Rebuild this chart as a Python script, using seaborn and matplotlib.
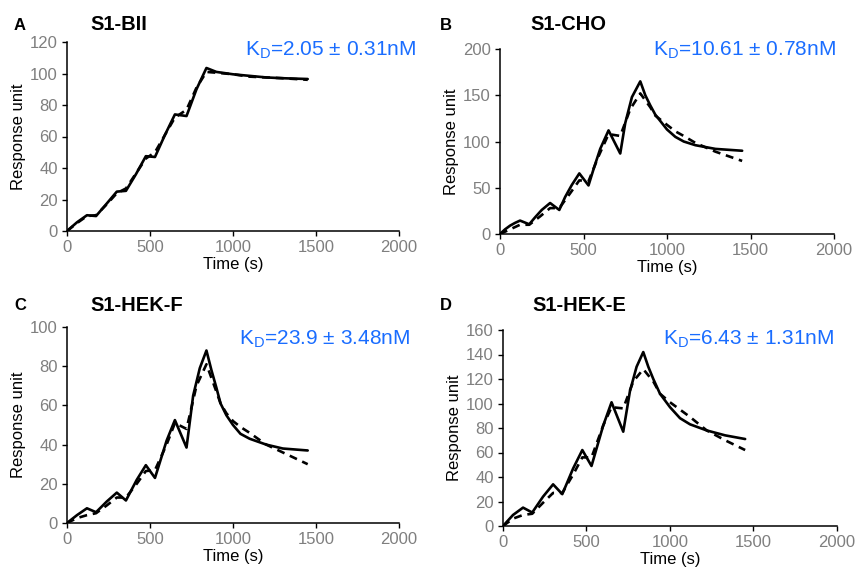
import numpy as np
import pandas as pd
import matplotlib.pyplot as plt
import seaborn as sns

sns.set_style("ticks")
plt.rcParams['font.family'] = ['Liberation Sans', 'DejaVu Sans']
plt.rcParams['text.color'] = 'black'
plt.rcParams['axes.labelcolor'] = 'black'

# ---- data ----
# Panel A: S1-BII
a_t_obs = [0, 60, 120, 175, 240, 300, 355, 415, 475, 530, 590, 650, 720, 780, 840, 900, 1000, 1100, 1200, 1300, 1450]
a_y_obs = [0, 5.5, 10, 9.5, 17.5, 25, 25.5, 36, 47.5, 47, 61, 74, 73, 90, 103.5, 101, 99.5, 98.5, 97.5, 97, 96.5]
a_t_fit = [0, 60, 120, 175, 240, 300, 355, 415, 475, 530, 590, 650, 720, 780, 840, 900, 1000, 1100, 1200, 1300, 1450]
a_y_fit = [0, 5, 9.5, 10, 17, 24, 27, 36.5, 46, 50, 61, 72, 77, 91, 101, 100.5, 99.5, 98, 97.5, 97, 96]

# Panel B: S1-CHO
b_t_obs = [0, 30, 60, 90, 120, 175, 210, 250, 300, 355, 390, 430, 475, 530, 560, 600, 650, 720, 750, 790, 840,
           870, 900, 930, 1000, 1050, 1100, 1170, 1290, 1450]
b_y_obs = [0, 5, 9, 12, 14.5, 10.5, 18, 26, 33.5, 26, 40, 53, 65.5, 52.5, 70, 92, 112, 87, 120, 148, 165,
           150, 139, 129, 113, 105, 100, 96, 92, 90]
b_t_fit = [0, 60, 120, 175, 240, 300, 355, 420, 475, 530, 590, 650, 720, 780, 840, 900, 930, 1000, 1050, 1100,
           1170, 1290, 1450]
b_y_fit = [0, 5, 10, 10, 19, 28, 28, 44, 58, 57, 84, 108, 106, 135, 152, 137, 128, 118, 111, 106,
           98.5, 89, 79]

# Panel C: S1-HEK-F
c_t_obs = [0, 60, 120, 175, 240, 300, 355, 420, 475, 530, 600, 650, 720, 760, 800, 840, 870, 900, 925, 960,
           1000, 1045, 1100, 1200, 1300, 1450]
c_y_obs = [0, 4, 7.5, 5.5, 11, 15.5, 11.5, 22, 29.5, 23, 42, 52.5, 38.5, 65, 79, 88, 78, 69, 61, 55,
           50, 45.5, 43, 40, 38, 37]
c_t_fit = [0, 60, 120, 175, 240, 300, 355, 420, 475, 530, 600, 650, 720, 780, 840, 900, 925, 960, 1000, 1045,
           1100, 1200, 1300, 1450]
c_y_fit = [0, 2.5, 4, 5, 9, 13, 13, 20, 26.5, 27, 40, 51, 48, 70, 81, 67, 61, 56, 52, 49,
           46, 40, 36, 30]

# Panel D: S1-HEK-E
d_t_obs = [0, 60, 120, 175, 240, 300, 355, 420, 475, 530, 600, 650, 720, 760, 800, 840, 870, 900, 940, 1000,
           1060, 1120, 1220, 1330, 1450]
d_y_obs = [0, 9, 15, 11, 24, 34, 26, 47, 62, 49, 82, 101, 77, 110, 130, 142, 130, 120, 108, 97,
           88, 83, 78, 74, 71]
d_t_fit = [0, 60, 120, 175, 240, 300, 355, 420, 475, 530, 600, 650, 720, 780, 840, 900, 940, 1000, 1060, 1120,
           1220, 1330, 1450]
d_y_fit = [0, 6, 9, 10, 19, 27, 27, 42, 56, 56, 82, 97, 96, 118, 128, 118, 108, 101, 95, 89,
           78, 70, 62]

letters = ["A", "B", "C", "D"]
titles = ["S1-BII", "S1-CHO", "S1-HEK-F", "S1-HEK-E"]
kd_values = ["2.05 ± 0.31nM", "10.61 ± 0.78nM", "23.9 ± 3.48nM", "6.43 ± 1.31nM"]
y_max = [120, 200, 100, 160]
y_step = [20, 50, 20, 20]
x_ticks = [0, 500, 1000, 1500, 2000]

panels = [
    (a_t_obs, a_y_obs, a_t_fit, a_y_fit),
    (b_t_obs, b_y_obs, b_t_fit, b_y_fit),
    (c_t_obs, c_y_obs, c_t_fit, c_y_fit),
    (d_t_obs, d_y_obs, d_t_fit, d_y_fit),
]

# axes boxes in figure pixels: left, top, right, bottom
W, H = 858, 574
boxes = [(67, 42, 399, 231), (500, 49, 834, 234), (67, 327, 399, 523), (503, 330, 837, 526)]
# letter x, title x, label y, kd right x, kd y
heads = [(14, 90, 25, 416, 50), (440, 530, 25, 836, 50), (14, 90, 306, 410, 339), (440, 532, 306, 834, 339)]

fig = plt.figure(figsize=(W / 100, H / 100), dpi=100)

for i, (t_obs, y_obs, t_fit, y_fit) in enumerate(panels):
    l, t, r, b = boxes[i]
    ax = fig.add_axes([l / W, 1 - b / H, (r - l) / W, (b - t) / H])
    obs = pd.DataFrame({"t": t_obs, "y": y_obs})
    fit = pd.DataFrame({"t": t_fit, "y": y_fit})
    sns.lineplot(data=obs, x="t", y="y", ax=ax, color="black", lw=1.9)
    sns.lineplot(data=fit, x="t", y="y", ax=ax, color="black", lw=1.9, linestyle=(0, (3, 2.2)))

    ax.set_xlim(0, 2000)
    ax.set_ylim(0, y_max[i])
    ax.set_xticks(x_ticks)
    ax.set_yticks(np.arange(0, y_max[i] + 1, y_step[i]))
    ax.tick_params(axis="both", labelsize=12, labelcolor="#7f7f7f", length=3.5, width=1, color="black", pad=3)
    for s in ["top", "right"]:
        ax.spines[s].set_visible(False)
    for s in ["left", "bottom"]:
        ax.spines[s].set_linewidth(1.1)
        ax.spines[s].set_color("black")
    ax.set_xlabel("Time (s)", fontsize=12, labelpad=1.5)
    ax.set_ylabel("Response unit", fontsize=12, labelpad=3)

    lx, tx, hy, kx, ky = heads[i]
    fig.text(lx / W, 1 - hy / H, letters[i], fontsize=12, fontweight="bold", va="center", ha="left")
    fig.text(tx / W, 1 - hy / H, titles[i], fontsize=14.5, fontweight="bold", va="center", ha="left")
    fig.text(kx / W, 1 - ky / H, r"K$_\mathregular{D}$=" + kd_values[i], fontsize=15, color="#1a6dff",
             va="center", ha="right")

fig.savefig("out.png", dpi=100)
